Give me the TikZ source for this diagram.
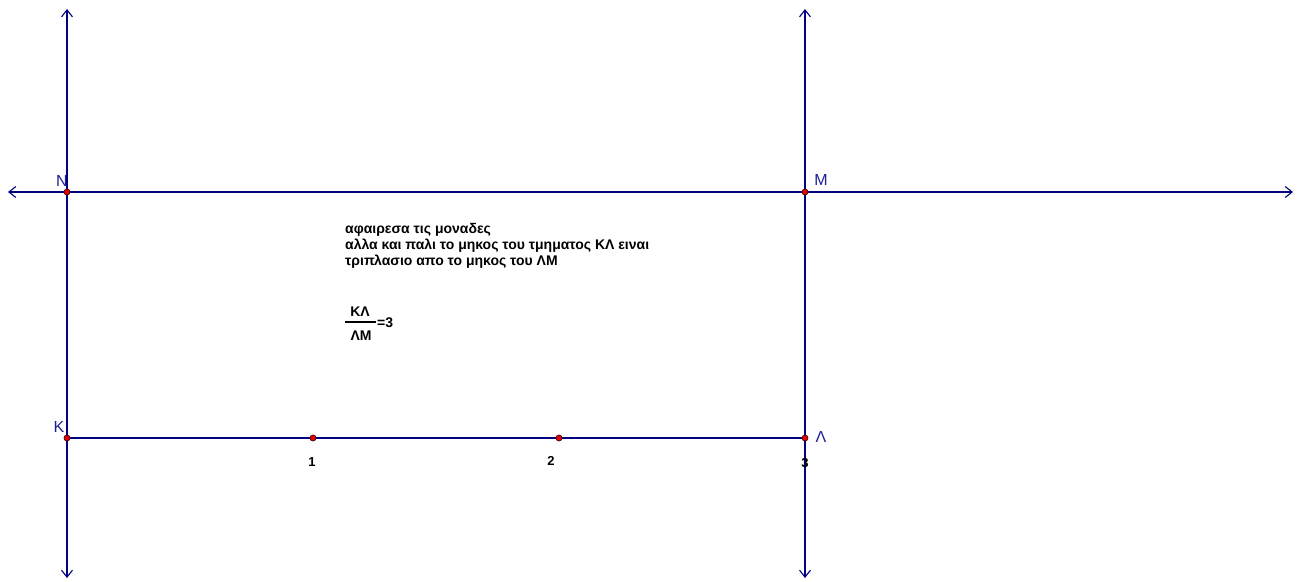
\documentclass[tikz,border=0pt]{standalone}
\usepackage{fontspec}
\setmainfont{Liberation Sans}
\usetikzlibrary{arrows.meta}
\definecolor{axisblue}{RGB}{0,0,128}
\definecolor{lblblue}{RGB}{30,30,150}
\definecolor{ptred}{RGB}{230,0,0}
\tikzset{
  axisline/.style={draw=axisblue, line width=1.3pt},
  arrowline/.style={axisline, {Straight Barb[length=7pt,width=11pt,line width=1.1pt]}-{Straight Barb[length=7pt,width=11pt,line width=1.1pt]}},
  pt/.style={circle, fill=ptred, draw=black!70!red, line width=0.7pt, inner sep=0pt, minimum size=6pt},
  ptlabel/.style={text=lblblue, font=\fontsize{16}{18}\selectfont, inner sep=0pt},
  numlabel/.style={font=\bfseries\fontsize{13}{15}\selectfont, inner sep=0pt},
  txt/.style={font=\bfseries\fontsize{14}{16}\selectfont, inner sep=0pt, anchor=west}
}
\begin{document}
\begin{tikzpicture}[x=1pt,y=-1pt]
\useasboundingbox (0,0) rectangle (1300,581);
% end coordinates
\coordinate (vNtop) at (67,9);
\coordinate (vKbot) at (67,578);
\coordinate (vMtop) at (805,9);
\coordinate (vLbot) at (805,578);
\coordinate (hL) at (8,192);
\coordinate (hR) at (1293,192);
% lines
\draw[arrowline] (vKbot) -- (vNtop);
\draw[arrowline] (vLbot) -- (vMtop);
\draw[arrowline] (hL) -- (hR);
% points
\node[pt] (N) at (67,192) {};
\node[pt] (M) at (805,192) {};
\node[pt] (K) at (67,438) {};
\node[pt] (P1) at (313,438) {};
\node[pt] (P2) at (559,438) {};
\node[pt] (L) at (805,438) {};
\draw[axisline] (K) -- (P1) -- (P2) -- (L);
% labels
\node[ptlabel] (lN) at (62,181) {N};
\node[ptlabel] (lM) at (821,180) {M};
\node[ptlabel] (lK) at (59,427) {K};
\node[ptlabel] (lL) at (821,437) {Λ};
\node[numlabel] (n1) at (312,462) {1};
\node[numlabel] (n2) at (551,461) {2};
\node[numlabel] (n3) at (805,463) {3};
% text
\node[txt] (t1) at (345,230) {αφαιρεσα τις μοναδες};
\node[txt] (t2) at (345,246) {αλλα και παλι το μηκος του τμηματος ΚΛ ειναι};
\node[txt] (t3) at (345,262) {τριπλασιο απο το μηκος του ΛΜ};
\node[txt, anchor=center] (fnum) at (360,312) {ΚΛ};
\node[txt, anchor=center] (fden) at (361,336) {ΛΜ};
\coordinate (barL) at (345,322);
\coordinate (barR) at (376,322);
\draw[line width=1.6pt] (barL) -- (barR);
\node[txt] (eq) at (377,323) {=3};
\end{tikzpicture}
\end{document}
